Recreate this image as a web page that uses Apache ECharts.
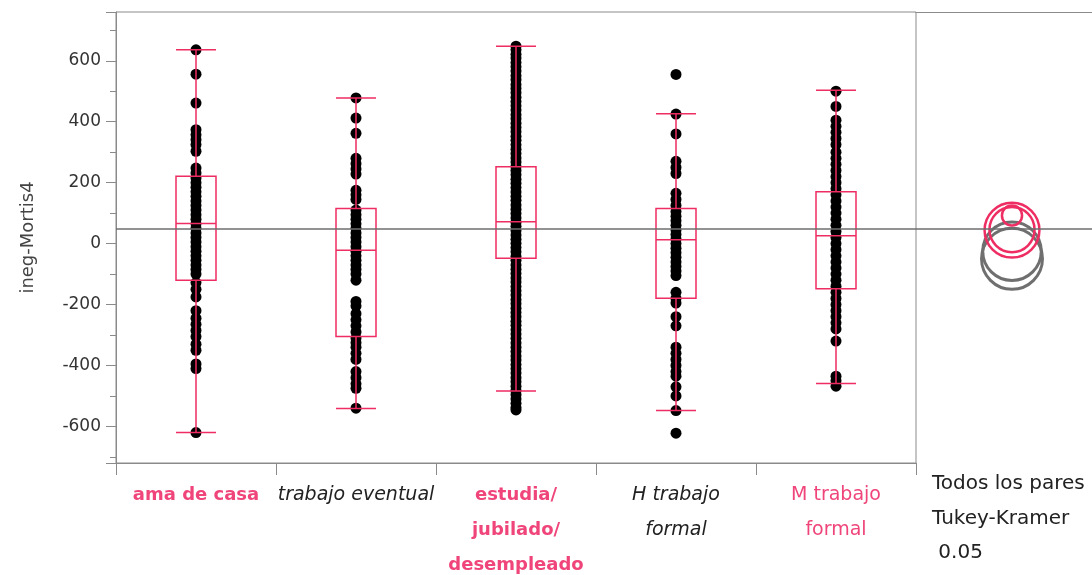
<!DOCTYPE html>
<html>
<head>
<meta charset="utf-8">
<script src="https://cdn.jsdelivr.net/npm/echarts@6/dist/echarts.min.js"></script>
<style>
  html, body { margin: 0; padding: 0; background: #fff; }
  #chart { width: 1092px; height: 575px; }
</style>
</head>
<body>
<div id="chart"></div>
<script>
// Groups on the x axis
const categories = ['ama de casa', 'trabajo eventual', 'estudia/\njubilado/\ndesempleado', 'H trabajo\nformal', 'M trabajo\nformal'];
// Label style per group: selected / not different (pink), different (black italic)
const labelStyles = ['pinkBold', 'blackItalic', 'pinkBold', 'blackItalic', 'pink'];

// Individual observations per group (ineg-Mortis4)
const amaDeCasa = [636, 556, 461, 374, 357, 341, 325, 303, 248, 232, 215, 200, 185, 170, 155, 140, 125, 110, 95, 80, 65, 50, 35, 20, 5, -10, -25, -40, -55, -70, -85, -100, -128, -150, -175, -220, -245, -265, -285, -305, -330, -350, -395, -410, -620];
const trabajoEventual = [478, 412, 362, 280, 262, 245, 228, 175, 160, 145, 110, 95, 80, 65, 50, 35, 20, 5, -10, -25, -40, -55, -70, -85, -100, -120, -190, -205, -230, -250, -270, -290, -310, -325, -340, -360, -380, -420, -440, -460, -475, -540];
const estudiaJubDesemp = [648, 636, 621, 609, 594, 580, 566, 551, 538, 522, 509, 495, 480, 466, 452, 438, 423, 410, 395, 381, 367, 352, 339, 324, 310, 296, 281, 268, 253, 240, 226, 211, 198, 184, 169, 155, 142, 127, 113, 99, 84, 70, 57, 42, 28, 14, 1, -13, -27, -42, -55, -70, -84, -98, -113, -126, -141, -155, -169, -184, -197, -212, -226, -240, -255, -268, -283, -297, -311, -326, -340, -354, -369, -382, -397, -411, -425, -440, -453, -468, -482, -496, -510, -524, -538, -546];
const hTrabajoFormal = [555, 425, 360, 270, 250, 230, 165, 145, 125, 105, 90, 75, 60, 45, 30, 15, 0, -15, -30, -45, -60, -75, -90, -105, -160, -180, -195, -240, -270, -340, -360, -380, -400, -420, -435, -470, -500, -548, -622];
const mTrabajoFormal = [500, 450, 405, 385, 365, 345, 325, 300, 280, 260, 240, 220, 200, 180, 160, 140, 120, 100, 80, 60, 40, 20, 0, -20, -40, -60, -80, -100, -120, -140, -160, -180, -200, -220, -240, -260, -280, -320, -435, -450, -468];
const groups = [amaDeCasa, trabajoEventual, estudiaJubDesemp, hTrabajoFormal, mTrabajoFormal];

// Box summaries: [lower whisker, Q1, median, Q3, upper whisker]
const boxStats = [
  [-620, -120, 66, 221, 636],
  [-541, -305, -22, 115, 478],
  [-484, -48, 72, 252, 648],
  [-548, -179, 13, 115, 426],
  [-459, -148, 26, 170, 503]
];

// Grand mean reference line
const grandMean = 49;

// Tukey-Kramer comparison circles: group mean, circle radius (in y units), same/different
const circleMeans = [44, -50, 92, -25, 46];
const circleRadii = [90, 100, 33, 96, 74];
const circleSame = [true, false, true, false, true];

// Right-panel caption
const captionLines = ['Todos los pares', 'Tukey-Kramer', ' 0.05'];

const PINK = '#ee2d63';
const AXIS_GREY = '#8a8a8a';
const FONT = '"DejaVu Sans", "Noto Sans", sans-serif';

const scatterData = [];
groups.forEach((vals, i) => vals.forEach(v => scatterData.push([i, v])));

// Draw grey (different) circles first, pink on top
const circleData = [];
[false, true].forEach(flag => {
  circleMeans.forEach((m, i) => {
    if (circleSame[i] === flag) circleData.push([0, m, circleRadii[i], flag ? 1 : 0]);
  });
});

const chart = echarts.init(document.getElementById('chart'), null, { renderer: 'canvas' });

const yCommon = {
  type: 'value',
  min: -720,
  max: 760,
  splitNumber: 7,
  minInterval: 200,
  maxInterval: 200,
  splitLine: { show: false }
};

chart.setOption({
  animation: false,
  backgroundColor: '#ffffff',
  grid: [
    // main plot frame
    { left: 116, right: 176, top: 12, bottom: 112, show: true, borderColor: AXIS_GREY, borderWidth: 1, backgroundColor: 'transparent' },
    // comparison panel (top edge + mean line)
    { left: 916, right: 0, top: 12, bottom: 112 },
    // comparison circles
    { left: 932, right: 0, top: 12, bottom: 112 }
  ],
  xAxis: [
    {
      gridIndex: 0,
      type: 'category',
      data: categories,
      boundaryGap: true,
      axisLine: { show: true, onZero: false, lineStyle: { color: AXIS_GREY, width: 1 } },
      axisTick: { show: true, length: 12, lineStyle: { color: AXIS_GREY } },
      splitLine: { show: false },
      axisLabel: {
        margin: 15,
        interval: 0,
        formatter: (value, idx) => {
          const st = labelStyles[idx];
          return value.split('\n').map(line => '{' + st + '|' + line + '}').join('\n');
        },
        rich: {
          pinkBold: { color: '#f0457a', fontWeight: 'bold', fontSize: 18, fontFamily: FONT, lineHeight: 35 },
          pink: { color: '#f0457a', fontSize: 19, fontFamily: FONT, lineHeight: 35 },
          blackItalic: { color: '#222', fontStyle: 'italic', fontSize: 19, fontFamily: FONT, lineHeight: 35 }
        }
      }
    },
    {
      gridIndex: 1,
      type: 'category',
      data: [''],
      position: 'top',
      axisLine: { show: true, onZero: false, lineStyle: { color: AXIS_GREY, width: 1 } },
      axisTick: { show: false },
      axisLabel: { show: false },
      splitLine: { show: false }
    },
    {
      gridIndex: 2,
      type: 'category',
      data: [''],
      show: false
    }
  ],
  yAxis: [
    Object.assign({}, yCommon, {
      gridIndex: 0,
      name: 'ineg-Mortis4',
      nameLocation: 'middle',
      nameGap: 79,
      nameTextStyle: { color: '#444', fontSize: 18, fontFamily: FONT },
      axisLine: { show: true, lineStyle: { color: AXIS_GREY, width: 1 } },
      axisTick: { show: true, length: 10, lineStyle: { color: AXIS_GREY } },
      minorTick: { show: true, splitNumber: 2, length: 6, lineStyle: { color: AXIS_GREY } },
      axisLabel: { color: '#333', fontSize: 17, fontFamily: FONT, margin: 15, showMinLabel: false, showMaxLabel: false }
    }),
    Object.assign({}, yCommon, { gridIndex: 1, show: false }),
    Object.assign({}, yCommon, { gridIndex: 2, show: false })
  ],
  graphic: captionLines.map((t, i) => ({
    type: 'text',
    left: 932,
    top: 474 + i * 34.5,
    silent: true,
    style: { text: t, fill: '#222', font: '20px ' + FONT }
  })),
  series: [
    {
      type: 'scatter',
      xAxisIndex: 0,
      yAxisIndex: 0,
      data: scatterData,
      symbol: 'circle',
      symbolSize: 11,
      itemStyle: { color: '#000', opacity: 1 },
      silent: true,
      z: 2,
      markLine: {
        silent: true,
        symbol: 'none',
        label: { show: false },
        lineStyle: { color: '#6e6e6e', width: 1.5, type: 'solid' },
        data: [{ yAxis: grandMean }]
      }
    },
    {
      type: 'boxplot',
      xAxisIndex: 0,
      yAxisIndex: 0,
      data: boxStats,
      boxWidth: [40, 40],
      silent: true,
      z: 3,
      itemStyle: { color: 'transparent', borderColor: PINK, borderWidth: 1.5 }
    },
    {
      type: 'line',
      xAxisIndex: 1,
      yAxisIndex: 1,
      data: [],
      markLine: {
        silent: true,
        symbol: 'none',
        label: { show: false },
        lineStyle: { color: '#6e6e6e', width: 1.5, type: 'solid' },
        data: [{ yAxis: grandMean }]
      }
    },
    {
      type: 'custom',
      xAxisIndex: 2,
      yAxisIndex: 2,
      data: circleData,
      silent: true,
      z: 4,
      renderItem: (params, api) => {
        const c = api.coord([0, api.value(1)]);
        const r = api.size([0, api.value(2)])[1];
        const same = api.value(3) === 1;
        return {
          type: 'circle',
          shape: { cx: c[0], cy: c[1], r: r },
          style: { fill: 'none', stroke: same ? PINK : '#6f6f6f', lineWidth: same ? 2.5 : 3 }
        };
      }
    }
  ]
});
</script>
</body>
</html>
